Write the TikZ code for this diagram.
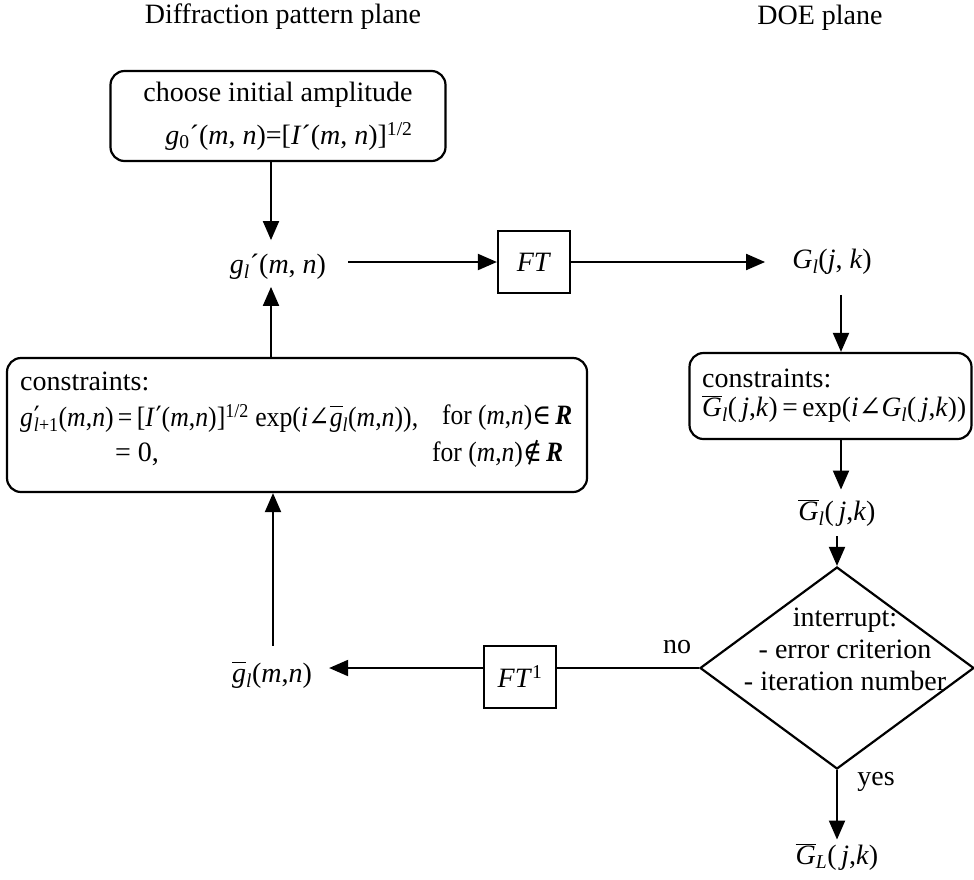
\documentclass[tikz,border=0pt]{standalone}
\usepackage{fontspec}
\setmainfont{Liberation Serif}
\newfontfamily\symf{DejaVu Serif}
\usetikzlibrary{arrows.meta,shapes.geometric}
\newcommand{\myi}[1]{\textit{#1}}
\newcommand{\myov}[1]{$\overline{\hbox{#1}}$}
\newcommand{\myR}{\textbf{\textit{R}}}
\begin{document}
\begin{tikzpicture}[x=1pt,y=-1pt,
  every node/.style={font=\fontsize{28}{33}\selectfont, inner sep=2pt},
  rbox/.style={draw, rounded corners=14pt, line width=2.2pt},
  sbox/.style={draw, line width=2.2pt, minimum width=72pt, minimum height=62pt},
  conn/.style={line width=2pt, -{Triangle[length=19pt,width=16pt]}},
  plain/.style={line width=2pt},
  lt/.style={anchor=west, inner sep=0pt}]
\useasboundingbox (0,0) rectangle (974,879);

% titles
\node (t1) at (283,17) {Diffraction pattern plane};
\node (t2) at (820,18) {DOE plane};

% left column
\node[rbox, minimum width=335pt, minimum height=90pt, align=right] (init) at (278,116)
  {choose initial amplitude\\[10pt]\myi{g}\textsubscript{0}´(\myi{m}, \myi{n})=[\myi{I}´(\myi{m}, \myi{n})]\textsuperscript{1/2}};
\node (gl) at (278,267) {\myi{g}\textsubscript{\myi{l}}´(\myi{m}, \myi{n})};
\node[sbox] (FT) at (534,262) {\myi{FT}};
\node (Gl) at (832,262) {\myi{G}\textsubscript{\myi{l}}(\myi{j}, \myi{k})};

\node[rbox, minimum width=580pt, minimum height=134pt] (lc) at (297,425) {};
\node[lt] (lc1) at (20,381) {constraints:};
\node[lt] (lc2) at (20,418) {\resizebox{398pt}{\height}{\myi{g}\kern1pt\rlap{\symf ′}\textsubscript{\myi{l}+1}(\myi{m},\myi{n})\,=\,[\myi{I}\kern1pt{\symf ′}(\myi{m},\myi{n})]\textsuperscript{1/2} exp(\myi{i}{\symf ∠}\myov{\myi{g}\vphantom{I}}\textsubscript{\myi{l}}(\myi{m},\myi{n})),}};
\node[lt] (lc2b) at (442,418) {\resizebox{130pt}{\height}{for (\myi{m},\myi{n}){\symf ∈}\,\myR}};
\node[lt] (lc3a) at (115,454) {= 0,};
\node[lt] (lc3b) at (432,454) {\resizebox{131pt}{\height}{for (\myi{m},\myi{n}){\symf ∉}\,\myR}};

\node (gbar) at (272,675) {\myov{\myi{g}\vphantom{I}}\textsubscript{\myi{l}}(\myi{m},\myi{n})};
\node[sbox] (FTi) at (520,677) {\myi{FT}\textsuperscript{1}};

% right column
\node[rbox, minimum width=282pt, minimum height=86pt] (rc) at (830.5,396) {};
\node[lt] (rc1) at (702,378) {constraints:};
\node[lt] (rc2) at (702,409) {\resizebox{264pt}{\height}{\myov{\myi{G}}\textsubscript{\myi{l}}(\,\myi{j},\myi{k})\,=\,exp(\myi{i}{\symf ∠}\myi{G}\textsubscript{\myi{l}}(\,\myi{j},\myi{k}))}};
\node (Gbar) at (837,513) {\myov{\myi{G}}\textsubscript{\myi{l}}(\,\myi{j},\myi{k})};
\node[draw, diamond, line width=2.2pt, minimum width=274pt, minimum height=202pt, inner sep=0pt] (dec) at (837,668) {};
\node[align=center, inner sep=0pt] (decT) at (845,649) {interrupt:\\[-1pt]- error criterion\\[-1pt]- iteration number};
\node (no) at (677,647) {no};
\node (yes) at (876,782) {yes};
\node (GL) at (837,857) {\myov{\myi{G}}\textsubscript{\myi{L}}(\,\myi{j},\myi{k})};

% connectors
\coordinate (cL) at (271,0);
\coordinate (cR) at (841,0);
\coordinate (cB) at (273,0);
\draw[conn, shorten >=12pt] (init.south -| cL) -- (gl.north -| cL);
\draw[conn, shorten <=20pt] (FT.west -| gl.east) -- (FT.west);
\draw[conn, shorten >=25pt] (FT.east) -- (FT.east -| Gl.west);
\draw[conn, shorten <=18pt] (Gl.south -| cR) -- (rc.north -| cR);
\draw[conn, shorten >=8pt] (rc.south -| cR) -- (Gbar.north -| cR);
\draw[conn, shorten <=8pt] (Gbar.south -| dec.north) -- (dec.north);
\draw[plain] (dec.west) -- (dec.west -| FTi.east);
\draw[conn, shorten >=15pt] (FTi.west |- dec.west) -- (gbar.east |- dec.west);
\draw[conn, shorten <=14pt] (gbar.north -| cB) -- (lc.south -| cB);
\draw[conn, shorten >=5pt] (lc.north -| cL) -- (gl.south -| cL);
\draw[conn, shorten >=2pt] (dec.south) -- (GL.north);
\end{tikzpicture}
\end{document}
